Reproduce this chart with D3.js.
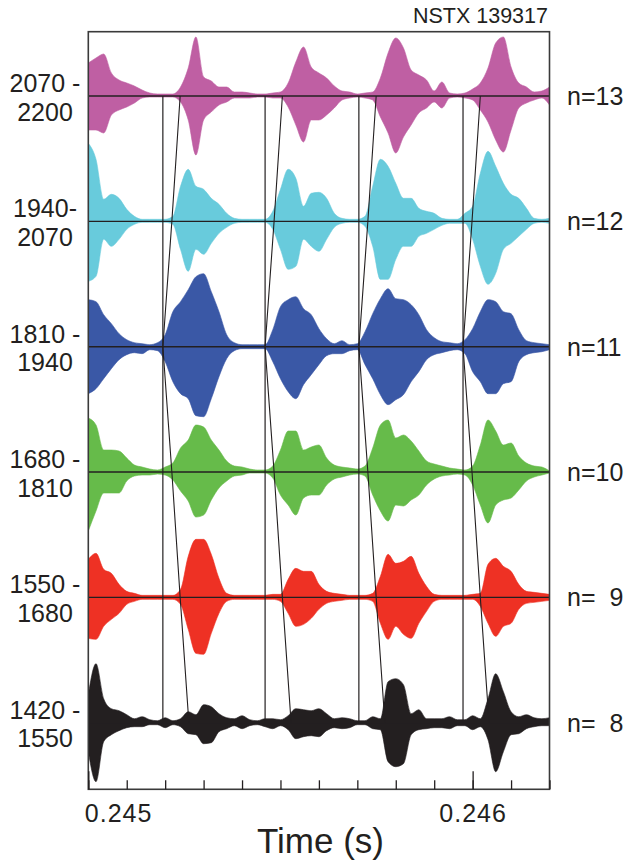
<!DOCTYPE html>
<html>
<head>
<meta charset="utf-8">
<script src="https://cdn.jsdelivr.net/npm/d3@7"></script>
<style>
  html, body { margin: 0; padding: 0; background: #fff; }
  svg { display: block; font-family: "Liberation Sans", Arial, Helvetica, sans-serif; }
</style>
</head>
<body>
<svg id="chart" width="636" height="865"></svg>
<script>
// ---------------- DATA ----------------
const rows = ["13", "12", "11", "10", "9", "8"];
const rowLabels = ["n=13", "n=12", "n=11", "n=10", "n=  9", "n=  8"];
const freqTop = ["2070 -", "1940-", "1810 -", "1680 -", "1550 -", "1420 -"];
const freqBottom = ["2200", "2070", "1940", "1810", "1680", "1550"];
const rowColors = ["#bf5fa3", "#68cbdc", "#3a58a6", "#66bb4a", "#ee3124", "#231f20"];

// sample times (s) of the envelope readings
const sampleTimes = [
  0.24500, 0.24502, 0.24504, 0.24506, 0.24508, 0.24510, 0.24512, 0.24514, 0.24516, 0.24518,
  0.24520, 0.24522, 0.24524, 0.24526, 0.24528, 0.24530, 0.24532, 0.24534, 0.24536, 0.24538,
  0.24540, 0.24542, 0.24544, 0.24546, 0.24548, 0.24550, 0.24552, 0.24554, 0.24556, 0.24558,
  0.24560, 0.24562, 0.24564, 0.24566, 0.24568, 0.24570, 0.24572, 0.24574, 0.24576, 0.24578,
  0.24580, 0.24582, 0.24584, 0.24586, 0.24588, 0.24590, 0.24592, 0.24594, 0.24596, 0.24598,
  0.24600, 0.24602, 0.24604, 0.24606, 0.24608, 0.24610, 0.24612, 0.24614, 0.24616, 0.24618,
  0.24620
];

// upper / lower envelope amplitudes (arb. units) per toroidal mode number
const upper13 = [33,38,42,23,16,13,10,6,3,2, 2,2,9,28,59,19,15,9,9,4, 4,3,2,2,3,4,13,34,49,29, 23,18,10,5,4,2,3,4,18,43, 58,48,26,21,16,5,14,3,2,3, 7,13,28,53,59,29,13,9,4,5, 9];
const lower13 = [34,34,37,19,14,11,7,2,1,1, 1,1,6,24,59,24,16,9,6,2, 2,2,1,1,2,2,11,29,46,24, 24,19,12,4,2,1,2,4,21,37, 57,41,29,17,12,6,12,2,1,2, 4,14,26,44,56,34,12,7,4,2, 9];
const upper12 = [78,62,22,27,23,12,5,2,2,2, 2,5,35,52,35,32,23,17,8,3, 2,2,2,2,10,32,52,43,15,28, 29,23,8,3,2,2,5,35,62,55, 38,23,23,13,10,8,3,2,2,8, 15,48,70,55,38,27,23,13,3,2, 3];
const lower12 = [60,55,18,25,18,8,3,1,1,1, 1,3,28,50,28,33,22,12,6,2, 1,1,1,1,8,28,48,45,18,25, 30,18,6,2,1,1,5,25,58,58, 38,25,25,15,12,8,4,2,2,2, 18,45,63,52,28,22,15,8,2,1, 2];
const upper11 = [47,45,32,23,13,7,4,3,2,4, 12,35,45,57,70,73,55,35,12,4, 2,2,2,2,17,40,47,50,38,32, 18,8,3,6,2,3,15,33,48,58, 48,47,42,32,17,9,5,4,3,7, 18,35,47,45,35,33,17,6,4,3, 2];
const lower11 = [47,42,32,22,13,8,6,7,3,4, 15,35,47,52,69,70,52,30,12,4, 2,2,2,2,15,32,45,52,38,28, 18,9,7,7,4,3,18,32,48,58, 53,48,35,25,13,8,6,4,3,7, 25,35,47,47,37,35,15,8,6,5, 3];
const upper10 = [54,47,22,22,21,14,7,5,3,2, 5,9,24,32,47,45,32,22,11,6, 5,3,2,2,6,22,41,41,22,25, 27,14,7,5,4,3,6,24,47,52, 34,37,31,21,11,8,6,4,3,2, 6,27,52,41,27,29,16,9,6,5, 1];
const lower10 = [59,39,21,21,21,9,4,3,3,2, 3,8,19,29,45,43,28,16,9,4, 3,1,1,1,6,23,33,43,26,23, 23,13,7,5,3,2,4,23,39,49, 33,34,28,23,13,7,4,3,2,3, 13,33,51,33,28,26,18,9,5,3, 1];
const upper9  = [38,44,28,24,13,6,4,2,2,2, 2,2,8,41,58,58,43,19,4,2, 2,2,2,2,3,3,18,29,26,26, 13,6,4,3,2,2,2,4,21,43, 34,36,41,24,11,3,2,2,2,2, 3,4,33,39,31,26,13,6,5,4, 3];
const lower9  = [41,42,29,22,16,7,4,2,2,2, 2,2,7,32,56,57,36,16,4,2, 2,2,2,2,2,4,16,29,27,21, 12,6,4,3,2,2,2,4,26,42, 29,37,41,26,14,4,2,2,2,2, 2,9,26,39,29,26,12,6,5,4, 3];
const upper8  = [28,59,24,14,12,8,4,6,3,2, 5,2,4,11,8,18,16,9,5,4, 7,3,2,4,4,3,7,14,13,12, 14,9,4,5,4,2,2,6,4,41, 44,38,9,13,4,4,4,6,3,3, 7,4,24,49,31,11,6,8,5,4, 5];
const lower8  = [29,59,19,12,8,5,4,4,2,2, 5,2,4,11,12,21,20,9,6,3, 6,3,2,4,6,3,7,16,14,13, 14,8,5,6,5,2,2,6,7,39, 44,41,12,7,6,5,5,6,3,3, 7,4,17,49,29,12,11,6,4,3, 3];

const uppers = [upper13, upper12, upper11, upper10, upper9, upper8];
const lowers = [lower13, lower12, lower11, lower10, lower9, lower8];

// burst reference times (vertical lines) and mode-dependent delays (slanted lines)
const markerTimes = [0.245194, 0.245460, 0.245704, 0.245975];
const rowDelays = [0.0000450, 0.0000234, 0, 0.0000234, 0.0000450, 0.0000677];

const xDomain = [0.245, 0.2462];
const majorTicks = [0.245, 0.246];
const majorTickLabels = ["0.245", "0.246"];
const title = "NSTX 139317";
const xTitle = "Time (s)";

// ---------------- LAYOUT ----------------
const svg = d3.select("#chart");
const L = 88.3, R = 549.5, T = 31.7, B = 789.3;
const ink = "#231f20";

const x = d3.scaleLinear().domain(xDomain).range([L, R]);
const yRow = d3.scalePoint().domain(rows).range([96, 722.7]);
const amp = d3.scaleLinear().domain([-65, 65]).range([65, -65]);

svg.append("defs").append("clipPath").attr("id", "plotclip")
  .append("rect").attr("x", L).attr("y", T).attr("width", R - L).attr("height", B - T);

const plot = svg.append("g").attr("clip-path", "url(#plotclip)");

// waveforms (filled envelopes)
rows.forEach((r, k) => {
  const y0 = yRow(r);
  const pts = sampleTimes.map((t, i) => ({ t, up: uppers[k][i], lo: lowers[k][i] }));
  const area = d3.area()
    .x(d => x(d.t))
    .y0(d => y0 + amp(-d.lo))
    .y1(d => y0 + amp(d.up))
    .curve(d3.curveMonotoneX);
  plot.append("path").datum(pts)
    .attr("d", area)
    .attr("fill", rowColors[k])
    .attr("stroke", rowColors[k])
    .attr("stroke-width", 0.6);
});

// baselines
plot.selectAll("line.base").data(rows).join("line")
  .attr("class", "base")
  .attr("x1", L).attr("x2", R)
  .attr("y1", d => yRow(d)).attr("y2", d => yRow(d))
  .attr("stroke", ink).attr("stroke-width", 1.4);

// vertical marker lines
plot.selectAll("line.marker").data(markerTimes).join("line")
  .attr("class", "marker")
  .attr("x1", d => x(d)).attr("x2", d => x(d))
  .attr("y1", yRow(rows[0])).attr("y2", yRow(rows[rows.length - 1]))
  .attr("stroke", ink).attr("stroke-width", 1.2);

// slanted (mode-delayed) lines
const slant = d3.line().x(d => x(d.t)).y(d => yRow(d.r));
markerTimes.forEach(t0 => {
  const pts = rows.map((r, k) => ({ r, t: t0 + rowDelays[k] }));
  plot.append("path").datum(pts)
    .attr("d", slant)
    .attr("fill", "none")
    .attr("stroke", ink).attr("stroke-width", 1.1);
});

// frame
svg.append("rect")
  .attr("x", L).attr("y", T).attr("width", R - L).attr("height", B - T)
  .attr("fill", "none").attr("stroke", "#3a3a3a").attr("stroke-width", 1.6);

// x axis: minor and major ticks pointing inward
const minorAxis = d3.axisBottom(x).ticks(12).tickSize(-9).tickFormat("");
const gMinor = svg.append("g").attr("transform", `translate(0,${B})`).call(minorAxis);
gMinor.select(".domain").remove();
gMinor.selectAll("line").attr("stroke", ink).attr("stroke-width", 1.3);

const majorAxis = d3.axisBottom(x).tickValues(majorTicks).tickSize(-18).tickPadding(15)
  .tickFormat((d, i) => majorTickLabels[i]);
const gMajor = svg.append("g").attr("transform", `translate(0,${B})`).call(majorAxis);
gMajor.select(".domain").remove();
gMajor.selectAll("line").attr("stroke", ink).attr("stroke-width", 1.3);
gMajor.selectAll("text")
  .attr("fill", ink)
  .style("font-size", "25px")
  .style("letter-spacing", "1px")
  .attr("font-family", "Liberation Sans, Arial, sans-serif");
gMajor.selectAll("text").filter((d, i) => i === 0)
  .attr("text-anchor", "start").attr("x", -4);

// axis title
svg.append("text")
  .attr("x", 320.5).attr("y", 853)
  .attr("text-anchor", "middle")
  .attr("fill", ink)
  .style("font-size", "35px")
  .text(xTitle);

// shot label
svg.append("text")
  .attr("x", 548).attr("y", 23)
  .attr("text-anchor", "end")
  .attr("fill", ink)
  .style("font-size", "21.5px")
  .text(title);

// left frequency band labels
rows.forEach((r, k) => {
  const y0 = yRow(r);
  svg.append("text")
    .attr("x", 45).attr("y", y0 - 4)
    .attr("text-anchor", "middle").attr("fill", ink)
    .style("font-size", "25px")
    .text(freqTop[k]);
  svg.append("text")
    .attr("x", 45).attr("y", y0 + 24.5)
    .attr("text-anchor", "middle").attr("fill", ink)
    .style("font-size", "25px")
    .text(freqBottom[k]);
});

// right mode labels
svg.selectAll("text.mode").data(rows).join("text")
  .attr("class", "mode")
  .attr("x", 567)
  .attr("y", d => yRow(d) + 9)
  .attr("fill", ink)
  .attr("xml:space", "preserve")
  .style("white-space", "pre")
  .style("font-size", "25px")
  .text((d, i) => rowLabels[i]);
</script>
</body>
</html>
